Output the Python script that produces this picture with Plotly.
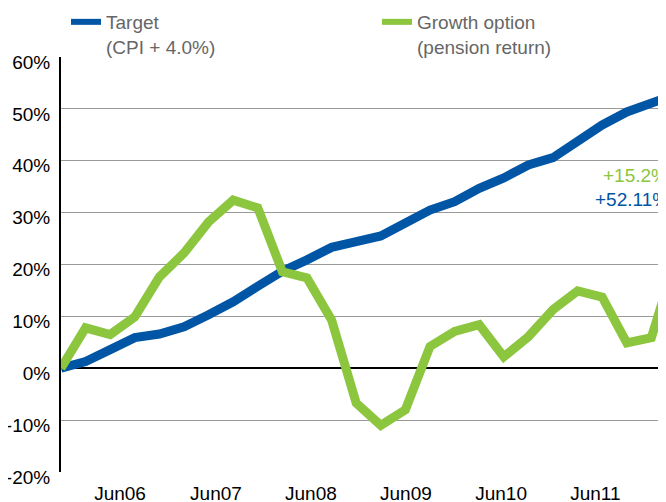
import plotly.graph_objects as go

# quarter index (0 = start), last point is a partial period
x_idx = [0, 1, 2, 3, 4, 5, 6, 7, 8, 9, 10, 11, 12, 13, 14, 15, 16, 17, 18, 19, 20,
         21, 22, 23, 24, 24.6]
target = [0, 1.3, 3.6, 5.9, 6.6, 8.0, 10.3, 12.8, 15.8, 18.7, 20.9, 23.3, 24.4, 25.5,
          28.0, 30.5, 32.1, 34.7, 36.7, 39.2, 40.6, 44.0, 46.9, 49.4, 50.9, 52.11]
growth = [0, 7.8, 6.5, 9.9, 17.6, 22.2, 28.2, 32.4, 30.9, 18.6, 17.4, 9.3, -6.7, -11.0,
          -8.0, 4.2, 7.1, 8.4, 2.2, 6.1, 11.3, 14.9, 13.7, 4.9, 5.9, 15.2]

tick_pos = [2.4, 6.3, 10.16, 14.02, 17.89, 21.72]
tick_text = ["Jun06", "Jun07", "Jun08", "Jun09", "Jun10", "Jun11"]
y_ticks = [-20, -10, 0, 10, 20, 30, 40, 50, 60]
y_text = ["-20%", "-10%", "0%", "10%", "20%", "30%", "40%", "50%", "60%"]
end_labels = ["+15.2%", "+52.11%"]
series_names = ["Target<br>(CPI + 4.0%)", "Growth option<br>(pension return)"]

BLUE = "#0055A5"
GREEN = "#8CC63F"
FONT = "Liberation Sans, Arial, Helvetica, sans-serif"
FS = 19

# page body has an 8px default margin: margins below compensate for it
L, T, B, R = 53, 49, 38, 0
PW = 666 - L - R
PH = 502 - T - B

fig = go.Figure()
fig.add_trace(go.Scatter(x=x_idx, y=target, mode="lines", showlegend=False,
                         name=series_names[0], line=dict(color=BLUE, width=9)))
fig.add_trace(go.Scatter(x=x_idx, y=growth, mode="lines", showlegend=False,
                         name=series_names[1], line=dict(color=GREEN, width=9)))
# legend entries (thinner swatches, as in the original key)
fig.add_trace(go.Scatter(x=[None], y=[None], mode="lines", name=series_names[0],
                         line=dict(color=BLUE, width=6), legend="legend", hoverinfo="skip"))
fig.add_trace(go.Scatter(x=[None], y=[None], mode="lines", name=series_names[1],
                         line=dict(color=GREEN, width=6), legend="legend2", hoverinfo="skip"))

fig.add_annotation(x=(602 - 8 - L) / PW, y=37.1, xref="paper", yref="y", text=end_labels[0],
                   showarrow=False, xanchor="left", yanchor="middle", borderpad=0,
                   font=dict(family=FONT, size=FS, color=GREEN))
fig.add_annotation(x=(594 - 8 - L) / PW, y=32.5, xref="paper", yref="y", text=end_labels[1],
                   showarrow=False, xanchor="left", yanchor="middle", borderpad=0,
                   font=dict(family=FONT, size=FS, color=BLUE))

leg_common = dict(orientation="h", xanchor="left", yanchor="top", yref="paper",
                  valign="top", itemwidth=30, bgcolor="rgba(0,0,0,0)",
                  font=dict(family=FONT, size=FS, color="#666666"))
ly = 1 + (T + 5) / PH

fig.update_layout(
    width=666, height=502,
    margin=dict(l=L, r=R, t=T, b=B, autoexpand=False),
    plot_bgcolor="white", paper_bgcolor="white",
    font=dict(family=FONT, size=FS, color="black"),
    showlegend=True,
    legend=dict(x=(66 - 8 - L) / PW, y=ly, **leg_common),
    legend2=dict(x=(377 - 8 - L) / PW, y=ly, **leg_common),
    xaxis=dict(range=[0, PW / 24.6], tickvals=tick_pos, ticktext=tick_text, showgrid=False,
               zeroline=False, showline=False, ticks="", ticklabelstandoff=8, automargin=False,
               tickfont=dict(family=FONT, size=FS, color="black")),
    yaxis=dict(range=[-20, 60], tickvals=y_ticks, ticktext=y_text, showgrid=True,
               gridcolor="#9a9a9a", gridwidth=1, zeroline=True, zerolinecolor="black",
               zerolinewidth=2, showline=True, linecolor="black", linewidth=2,
               ticks="", ticklabelstandoff=5, ticklabelshift=5, automargin=False,
               tickfont=dict(family=FONT, size=FS, color="black")),
)
fig.write_html("out.html")
